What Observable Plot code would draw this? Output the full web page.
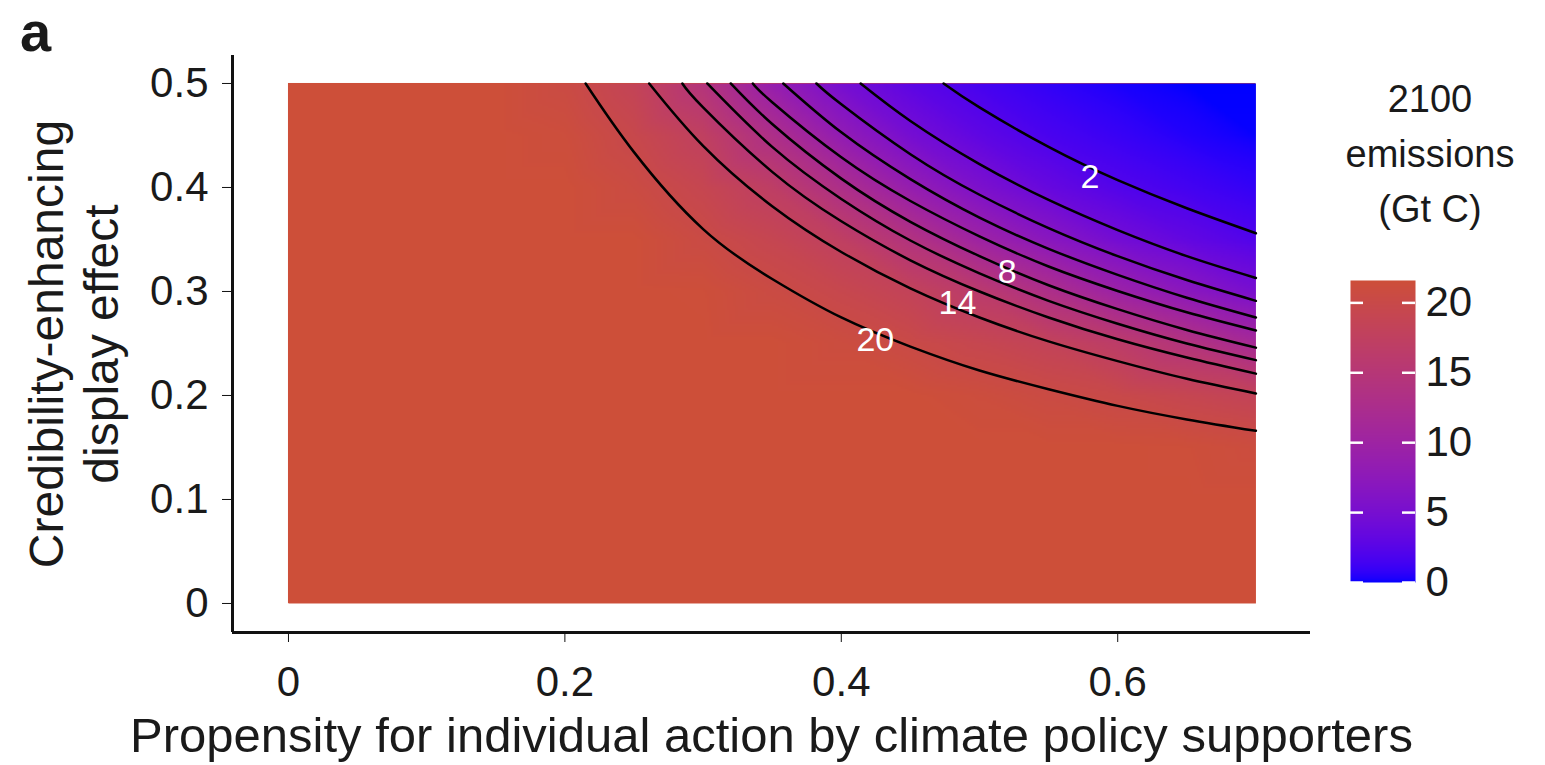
<!DOCTYPE html>
<html>
<head>
<meta charset="utf-8">
<script src="https://cdn.jsdelivr.net/npm/d3@7"></script>
<script src="https://cdn.jsdelivr.net/npm/@observablehq/plot@0.6"></script>
<style>
  html, body { margin: 0; padding: 0; background: #ffffff; }
  #wrap { position: relative; width: 1545px; height: 765px; overflow: hidden; font-family: "Liberation Sans", Arial, Helvetica, sans-serif; color: #1a1a1a; }
  #main, #legend { position: absolute; }
  #main { left: 0; top: 0; }
  #legend { left: 1330px; top: 260px; }
  .panel { position: absolute; left: 20px; top: 1px; font-weight: bold; font-size: 56px; line-height: 1.1; }
  .ltitle { position: absolute; left: 1340px; top: 72px; width: 180px; text-align: center; font-size: 38px; line-height: 55px; }
</style>
</head>
<body>
<div id="wrap">
  <div class="panel">a</div>
  <div class="ltitle">2100<br>emissions<br>(Gt C)</div>
  <div id="main"></div>
  <div id="legend"></div>
</div>
<script>
// ---- data ----
const xTicks = [0, 0.2, 0.4, 0.6];
const yTicks = [0, 0.1, 0.2, 0.3, 0.4, 0.5];
const legendTicks = [0, 5, 10, 15, 20];

// grid of 2100 emissions (Gt C); columns x = 0..0.7, rows y = 0..0.5
const gridX = [0, 0.05, 0.1, 0.15, 0.2, 0.25, 0.3, 0.35, 0.4, 0.45, 0.5, 0.55, 0.6, 0.65, 0.7];
const gridY = [0, 0.05, 0.1, 0.15, 0.2, 0.25, 0.3, 0.35, 0.4, 0.45, 0.5];
const emissions = [
  [21.6, 21.6, 21.6, 21.6, 21.6, 21.6, 21.6, 21.6, 21.6, 21.6, 21.6, 21.6, 21.6, 21.6, 21.6],
  [21.6, 21.6, 21.6, 21.6, 21.6, 21.6, 21.6, 21.6, 21.6, 21.6, 21.6, 21.6, 21.6, 21.6, 21.6],
  [21.6, 21.6, 21.6, 21.6, 21.6, 21.6, 21.6, 21.6, 21.6, 21.6, 21.6, 21.6, 21.6, 21.6, 21.6],
  [21.6, 21.6, 21.6, 21.6, 21.6, 21.6, 21.6, 21.6, 21.6, 21.6, 21.6, 21.6, 21.6, 21.49, 21.05],
  [21.6, 21.6, 21.6, 21.6, 21.6, 21.6, 21.6, 21.6, 21.6, 21.6, 21.15, 20.54, 19.92, 19.13, 18.34],
  [21.6, 21.6, 21.6, 21.6, 21.6, 21.6, 21.6, 21.6, 20.99, 20.22, 19.28, 18.27, 16.59, 14.22, 11.48],
  [21.6, 21.6, 21.6, 21.6, 21.6, 21.6, 21.5, 20.55, 19.49, 18.25, 16.11, 12.95, 9.64, 7.13, 5.08],
  [21.6, 21.6, 21.6, 21.6, 21.6, 21.6, 20.44, 19.11, 17.32, 14.02, 9.96, 6.99, 4.65, 3.22, 2.10],
  [21.6, 21.6, 21.6, 21.6, 21.6, 20.66, 19.16, 16.98, 12.91, 8.62, 5.48, 3.49, 2.19, 1.46, 0.83],
  [21.6, 21.6, 21.6, 21.6, 21.24, 19.68, 17.5, 13.02, 8.2, 4.86, 2.97, 1.75, 1.03, 0.41, 0.06],
  [21.6, 21.6, 21.6, 21.6, 20.5, 18.47, 14.33, 8.73, 4.87, 2.8, 1.58, 0.77, 0.24, 0, 0]
];

// contour lines (points [x, y])
const line20 = [[0.215,0.5],[0.25,0.434],[0.3,0.36],[0.35,0.312],[0.4,0.275],[0.45,0.247],[0.5,0.224],[0.55,0.206],[0.6,0.19],[0.65,0.177],[0.7,0.166]];
const line18 = [[0.261,0.5],[0.3,0.44],[0.35,0.382],[0.4,0.338],[0.45,0.303],[0.5,0.275],[0.55,0.252],[0.6,0.233],[0.65,0.216],[0.7,0.202]];
const line16 = [[0.285,0.5],[0.3,0.477],[0.35,0.415],[0.4,0.3675],[0.45,0.33],[0.5,0.3],[0.55,0.275],[0.6,0.254],[0.65,0.2365],[0.7,0.221]];
const line14 = [[0.303,0.5],[0.35,0.439],[0.4,0.389],[0.45,0.349],[0.5,0.3175],[0.55,0.291],[0.6,0.269],[0.65,0.25],[0.7,0.234]];
const line12 = [[0.32,0.5],[0.35,0.461],[0.4,0.4085],[0.45,0.367],[0.5,0.334],[0.55,0.306],[0.6,0.283],[0.65,0.263],[0.7,0.246]];
const line10 = [[0.336,0.5],[0.35,0.482],[0.4,0.429],[0.45,0.387],[0.5,0.353],[0.55,0.324],[0.6,0.3005],[0.65,0.28],[0.7,0.2625]];
const line8  = [[0.358,0.5],[0.4,0.453],[0.45,0.408],[0.5,0.371],[0.55,0.341],[0.6,0.316],[0.65,0.294],[0.7,0.275]];
const line6  = [[0.382,0.5],[0.4,0.48],[0.45,0.432],[0.5,0.393],[0.55,0.361],[0.6,0.334],[0.65,0.311],[0.7,0.291]];
const line4  = [[0.414,0.5],[0.45,0.464],[0.5,0.4225],[0.55,0.388],[0.6,0.359],[0.65,0.334],[0.7,0.313]];
const line2  = [[0.474,0.5],[0.5,0.477],[0.55,0.439],[0.6,0.407],[0.65,0.38],[0.7,0.356]];
const contourLevels = [20, 18, 16, 14, 12, 10, 8, 6, 4, 2];
const contourLines = [line20, line18, line16, line14, line12, line10, line8, line6, line4, line2];

const labelText = ["20", "14", "8", "2"];
const labelX = [0.4246, 0.484, 0.520, 0.580];
const labelY = [0.253, 0.289, 0.319, 0.410];

// ---- tables built from the arrays ----
const grid = [];
gridY.forEach((y, i) => gridX.forEach((x, j) => grid.push({x, y, v: emissions[i][j]})));
const contours = [];
contourLines.forEach((pts, k) => pts.forEach(([x, y]) => contours.push({level: contourLevels[k], x, y})));
const labels = labelText.map((t, i) => ({t, x: labelX[i], y: labelY[i]}));

const colorOpts = {type: "linear", domain: [0, 21.6], range: ["#0000ff", "#cd4f39"], interpolate: "lab"};
const FONT = "Liberation Sans, Arial, Helvetica, sans-serif";

const main = Plot.plot({
  width: 1545, height: 765,
  marginLeft: 232, marginRight: 235, marginTop: 55, marginBottom: 133,
  style: {fontFamily: FONT, color: "#1a1a1a", background: "transparent"},
  x: {domain: [-0.0405, 0.7395]},
  y: {domain: [-0.0279, 0.5269]},
  color: colorOpts,
  marks: [
    Plot.rect([0], {x1: 0, x2: 0.7, y1: 0, y2: 0.5, fill: "#cd4f39"}),
    Plot.raster(grid, {x: "x", y: "y", fill: "v", interpolate: "barycentric",
      x1: 0, x2: 0.7, y1: 0, y2: 0.5, width: 487, height: 263}),
    Plot.line(contours, {x: "x", y: "y", z: "level", stroke: "#000", strokeWidth: 2.5, curve: "natural"}),
    Plot.text(labels, {x: "x", y: "y", text: "t", fill: "#fff", fontSize: 34}),
    Plot.ruleX([-0.0405], {stroke: "#111", strokeWidth: 3}),
    Plot.ruleY([-0.0279], {stroke: "#111", strokeWidth: 3}),
    Plot.axisX({ticks: xTicks, tickFormat: d => String(d), tickSize: 10, tickWidth: 3, tickPadding: 24, fontSize: 42, label: null, stroke: "#111"}),
    Plot.axisY({ticks: yTicks, tickFormat: d => String(d), tickSize: 10, tickWidth: 3, tickPadding: 14, fontSize: 42, label: null, stroke: "#111"}),
    Plot.text(["Propensity for individual action by climate policy supporters"], {frameAnchor: "bottom", dy: 104, lineAnchor: "middle", fontSize: 49, fill: "#1a1a1a"}),
    Plot.text(["Credibility-enhancing\ndisplay effect"], {frameAnchor: "left", rotate: -90, textAnchor: "middle", dx: -160, fontSize: 48, lineHeight: 1.15, fill: "#1a1a1a"})
  ]
});
document.getElementById("main").appendChild(main);

const legend = Plot.plot({
  width: 200, height: 370,
  marginLeft: 20, marginRight: 115, marginTop: 20, marginBottom: 48,
  style: {fontFamily: FONT, color: "#1a1a1a", background: "transparent"},
  x: {domain: [0, 1], axis: null},
  y: {domain: [0, 21.6]},
  color: colorOpts,
  marks: [
    Plot.raster({x1: 0, x2: 1, y1: 0, y2: 21.6, width: 1, height: 302, fill: (x, y) => y}),
    Plot.ruleY(legendTicks, {x1: 0, x2: 0.2, stroke: "#fff", strokeWidth: 2.5}),
    Plot.ruleY(legendTicks, {x1: 0.8, x2: 1, stroke: "#fff", strokeWidth: 2.5}),
    Plot.axisY({anchor: "right", ticks: legendTicks, tickSize: 0, tickPadding: 10, fontSize: 42, label: null})
  ]
});
document.getElementById("legend").appendChild(legend);
</script>
</body>
</html>
